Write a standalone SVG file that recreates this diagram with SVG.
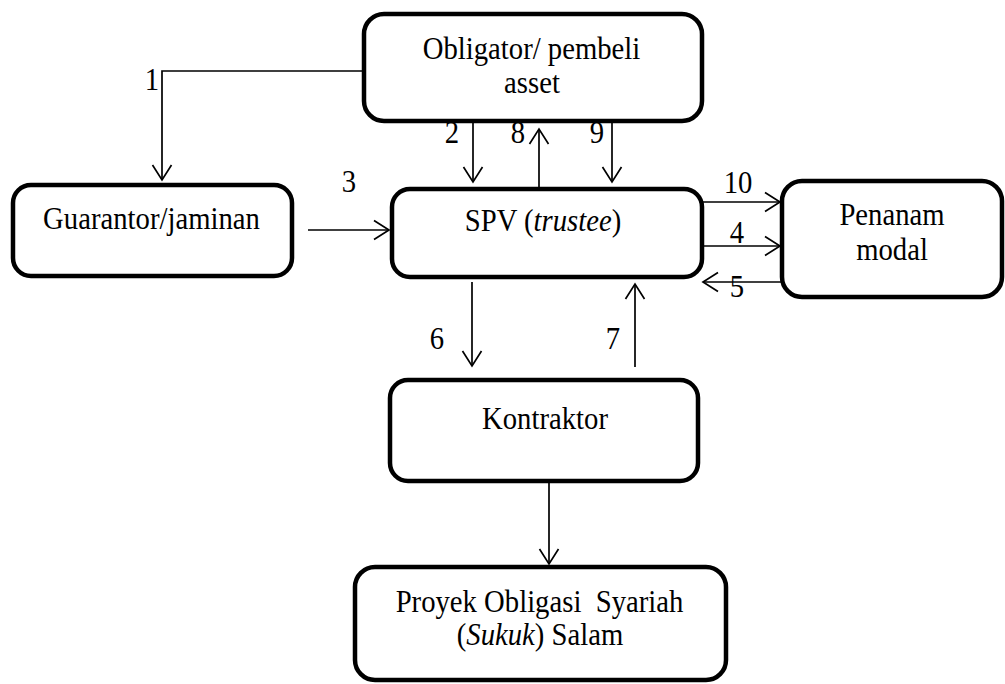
<svg xmlns="http://www.w3.org/2000/svg" width="1005" height="684" viewBox="0 0 1005 684">
<defs>
<marker id="ah" markerUnits="userSpaceOnUse" markerWidth="24" markerHeight="24" viewBox="-16 -12 18 24" refX="0" refY="0" orient="auto">
<path d="M-15,-9.5 L0,0 L-15,9.5" fill="none" stroke="#000" stroke-width="1.7"/>
</marker>
</defs>
<rect width="1005" height="684" fill="#fff"/>
<g id="connectors" fill="none" stroke="#000" stroke-width="1.7">
<path d="M365,71 H162 V180" marker-end="url(#ah)"/>
<path d="M473,121 V182" marker-end="url(#ah)"/>
<path d="M539,189 V129" marker-end="url(#ah)"/>
<path d="M612,121 V182" marker-end="url(#ah)"/>
<path d="M308,230 H389" marker-end="url(#ah)"/>
<path d="M702,202 H780" marker-end="url(#ah)"/>
<path d="M702,246 H780" marker-end="url(#ah)"/>
<path d="M782,282 H703" marker-end="url(#ah)"/>
<path d="M472,282 V366" marker-end="url(#ah)"/>
<path d="M635,367 V284" marker-end="url(#ah)"/>
<path d="M549,482 V564" marker-end="url(#ah)"/>
</g>
<g id="labels">
<text font-family="Liberation Serif" font-size="28.7" text-anchor="middle" fill="#000" transform="translate(152,90) scale(1,1.12)">1</text>
<text font-family="Liberation Serif" font-size="28.7" text-anchor="middle" fill="#000" transform="translate(452,143) scale(1,1.12)">2</text>
<text font-family="Liberation Serif" font-size="28.7" text-anchor="middle" fill="#000" transform="translate(518,143) scale(1,1.12)">8</text>
<text font-family="Liberation Serif" font-size="28.7" text-anchor="middle" fill="#000" transform="translate(597,143) scale(1,1.12)">9</text>
<text font-family="Liberation Serif" font-size="28.7" text-anchor="middle" fill="#000" transform="translate(349,192) scale(1,1.12)">3</text>
<text font-family="Liberation Serif" font-size="28.7" text-anchor="middle" fill="#000" transform="translate(738,193) scale(1,1.12)">10</text>
<text font-family="Liberation Serif" font-size="28.7" text-anchor="middle" fill="#000" transform="translate(737,243) scale(1,1.12)">4</text>
<text font-family="Liberation Serif" font-size="28.7" text-anchor="middle" fill="#000" transform="translate(737,297) scale(1,1.12)">5</text>
<text font-family="Liberation Serif" font-size="28.7" text-anchor="middle" fill="#000" transform="translate(437,349) scale(1,1.12)">6</text>
<text font-family="Liberation Serif" font-size="28.7" text-anchor="middle" fill="#000" transform="translate(613,349) scale(1,1.12)">7</text>
</g>
<g id="obligator">
<rect x="364" y="14" width="338" height="107" rx="20" fill="#fff" stroke="#000" stroke-width="4.5"/>
<text font-family="Liberation Serif" font-size="28.7" text-anchor="middle" fill="#000" transform="translate(531.5,59) scale(1,1.12)">Obligator/ pembeli</text>
<text font-family="Liberation Serif" font-size="28.7" text-anchor="middle" fill="#000" transform="translate(532,93) scale(1,1.12)">asset</text>
</g>
<g id="guarantor">
<rect x="13" y="185" width="279" height="91" rx="18" fill="#fff" stroke="#000" stroke-width="4.5"/>
<text font-family="Liberation Serif" font-size="28.7" text-anchor="middle" fill="#000" transform="translate(151.5,229) scale(1,1.12)">Guarantor/jaminan</text>
</g>
<g id="spv">
<rect x="392" y="189" width="310" height="88" rx="18" fill="#fff" stroke="#000" stroke-width="4.5"/>
<text font-family="Liberation Serif" font-size="28.7" text-anchor="middle" fill="#000" transform="translate(543,231) scale(1,1.12)">SPV (<tspan font-style="italic">trustee</tspan>)</text>
</g>
<g id="penanam">
<rect x="782" y="181" width="220" height="116" rx="20" fill="#fff" stroke="#000" stroke-width="4.5"/>
<text font-family="Liberation Serif" font-size="28.7" text-anchor="middle" fill="#000" transform="translate(892,225) scale(1,1.12)">Penanam</text>
<text font-family="Liberation Serif" font-size="28.7" text-anchor="middle" fill="#000" transform="translate(892,260) scale(1,1.12)">modal</text>
</g>
<g id="kontraktor">
<rect x="390" y="380" width="308" height="101" rx="18" fill="#fff" stroke="#000" stroke-width="4.5"/>
<text font-family="Liberation Serif" font-size="28.7" text-anchor="middle" fill="#000" transform="translate(545,429) scale(1,1.12)">Kontraktor</text>
</g>
<g id="proyek">
<rect x="355" y="567" width="371" height="113" rx="20" fill="#fff" stroke="#000" stroke-width="4.5"/>
<text font-family="Liberation Serif" font-size="28.7" text-anchor="middle" fill="#000" transform="translate(539.5,612) scale(1,1.12)" xml:space="preserve">Proyek Obligasi  Syariah</text>
<text font-family="Liberation Serif" font-size="28.7" text-anchor="middle" fill="#000" transform="translate(540,645) scale(1,1.12)">(<tspan font-style="italic">Sukuk</tspan>) Salam</text>
</g>
</svg>
